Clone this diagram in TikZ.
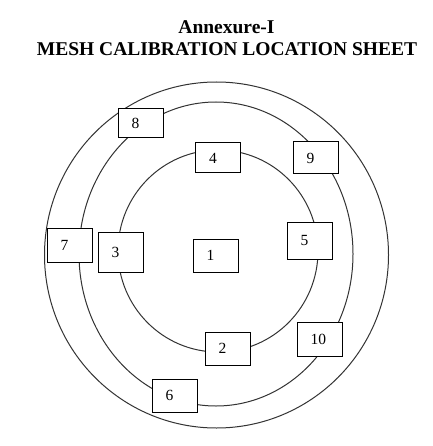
\documentclass[tikz,border=0pt]{standalone}
\usepackage{fontspec}
\setmainfont{Liberation Serif}
\tikzset{
  ring/.style={draw=black!80,line width=1pt},
  spot/.style={draw,fill=white,line width=1pt,text width=18pt,inner xsep=13.5pt,inner ysep=0pt,align=left,font=\fontsize{15.5}{17}\selectfont},
  heading/.style={font=\fontsize{19.5}{22}\selectfont\bfseries,inner sep=0pt,anchor=base}
}
\begin{document}
\begin{tikzpicture}[x=1pt,y=-1pt]
\useasboundingbox (0,0) rectangle (432,446);

\node[heading] (annex) at (226.5,34) {Annexure-I};
\node[heading] (sheet) at (227,56) {MESH CALIBRATION LOCATION SHEET};

%rings
\draw[ring] (216.5,255) ellipse [x radius=172pt, y radius=173pt];
\draw[ring] (216,254) ellipse [x radius=137pt, y radius=152pt];
\draw[ring] (218,251) ellipse [x radius=100pt, y radius=101pt];

\node[spot,minimum height=33pt] (p1) at (215.5,255.5) {1};
\node[spot,minimum height=33pt] (p2) at (227.5,348.5) {2};
\node[spot,minimum height=40pt] (p3) at (120.5,252) {3};
\node[spot,minimum height=30pt] (p4) at (218,158) {4};
\node[spot,minimum height=37pt] (p5) at (309.5,240.5) {5};
\node[spot,minimum height=33pt] (p6) at (174.5,395.5) {6};
\node[spot,minimum height=34pt] (p7) at (69.5,245) {7};
\node[spot,minimum height=29pt] (p8) at (140.5,123.5) {8};
\node[spot,minimum height=32pt] (p9) at (315.5,158) {9};
\node[spot,minimum height=34pt] (p10) at (319.5,339) {10};
\end{tikzpicture}
\end{document}
